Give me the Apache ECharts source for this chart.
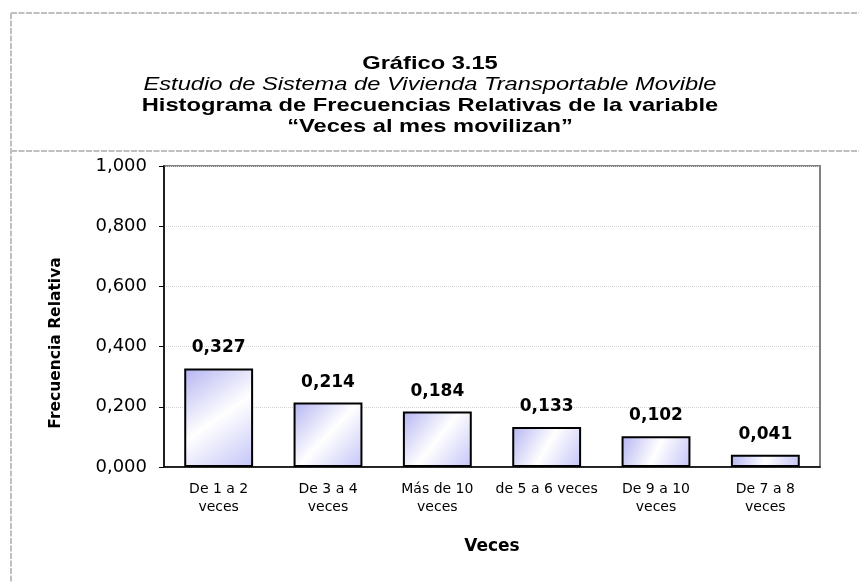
<!DOCTYPE html>
<html>
<head>
<meta charset="utf-8">
<script src="https://cdn.jsdelivr.net/npm/echarts@6/dist/echarts.min.js"></script>
<style>
  html, body { margin: 0; padding: 0; background: #fff; }
  #chart { width: 859px; height: 583px; }
</style>
</head>
<body>
<div id="chart"></div>
<script>
// categorias y frecuencias relativas
const categorias = ["De 1 a 2\nveces", "De 3 a 4\nveces", "Más de 10\nveces", "de 5 a 6 veces", "De 9 a 10\nveces", "De 7 a 8\nveces"];
const frecuencias = [0.327, 0.214, 0.184, 0.133, 0.102, 0.041];
const ticksY = [0, 0.2, 0.4, 0.6, 0.8, 1.0];
const titulos = [
  "Gráfico 3.15",
  "Estudio de Sistema de Vivienda Transportable Movible",
  "Histograma de Frecuencias Relativas de la variable",
  "“Veces al mes movilizan”",
];

const fmt = v => v.toFixed(3).replace(".", ",");
const titleFont = "'Liberation Sans', Arial, sans-serif";
const bodyFont = "'DejaVu Sans', Verdana, sans-serif";

// lineas del titulo (texto algo ensanchado como en el original)
const tituloY = [64, 85, 106, 127];
const tituloGraphic = titulos.map((t, i) => ({
  type: "text",
  x: 430,
  y: tituloY[i],
  scaleX: 1.28,
  style: {
    text: t,
    fontFamily: titleFont,
    fontSize: 18.5,
    fontWeight: i === 1 ? "normal" : "bold",
    fontStyle: i === 1 ? "italic" : "normal",
    fill: "#000",
    align: "center",
    verticalAlign: "middle",
  },
}));

let myChart = echarts.init(document.getElementById("chart"));
myChart.setOption({
  animation: false,
  graphic: [
    // marco punteado
    { type: "line", shape: { x1: 11, y1: 13, x2: 859, y2: 13 }, style: { stroke: "#c0c0c0", lineWidth: 2, lineDash: [6, 1.5] } },
    { type: "line", shape: { x1: 11, y1: 13, x2: 11, y2: 583 }, style: { stroke: "#c0c0c0", lineWidth: 2, lineDash: [6, 1.5] } },
    { type: "line", shape: { x1: 11, y1: 151, x2: 859, y2: 151 }, style: { stroke: "#c0c0c0", lineWidth: 2, lineDash: [6, 1.5] } },
    ...tituloGraphic,
    {
      type: "text", x: 56, y: 343, rotation: Math.PI / 2,
      style: { text: "Frecuencia Relativa", fontFamily: bodyFont, fontSize: 15.5, fontWeight: "bold", fill: "#000", align: "center", verticalAlign: "middle" },
    },
  ],
  grid: {
    left: 164, right: 39, top: 166, bottom: 116,
    show: true, borderColor: "#808080", borderWidth: 2,
  },
  xAxis: {
    type: "category",
    data: categorias,
    name: "Veces",
    nameLocation: "middle",
    nameGap: 71,
    nameTextStyle: { fontFamily: bodyFont, fontSize: 17, fontWeight: "bold", color: "#000" },
    axisLine: { lineStyle: { color: "#000", width: 1.5 } },
    axisTick: { length: 5, lineStyle: { color: "#000" } },
    axisLabel: { fontFamily: bodyFont, fontSize: 14, color: "#000", margin: 13, lineHeight: 18, interval: 0 },
  },
  yAxis: {
    type: "value",
    min: ticksY[0],
    max: ticksY[ticksY.length - 1],
    interval: 0.2,
    axisLine: { show: true, lineStyle: { color: "#000", width: 1.5 } },
    axisTick: { show: true, length: 5, lineStyle: { color: "#000" } },
    axisLabel: { fontFamily: bodyFont, fontSize: 18, color: "#000", margin: 17, formatter: fmt },
    splitLine: { lineStyle: { color: "#d4d4d4", type: "dotted" } },
  },
  series: [
    {
      type: "bar",
      data: frecuencias,
      barWidth: "63%",
      itemStyle: {
        color: new echarts.graphic.LinearGradient(0, 0, 1, 1, [
          { offset: 0, color: "#b4b4f2" },
          { offset: 0.5, color: "#ffffff" },
          { offset: 1, color: "#c4c4f8" },
        ]),
        borderColor: "#000",
        borderWidth: 2,
      },
      label: {
        show: true,
        position: "top",
        distance: 12,
        fontFamily: bodyFont,
        fontSize: 17,
        fontWeight: "bold",
        color: "#000",
        formatter: p => fmt(p.value),
      },
    },
  ],
});
</script>
</body>
</html>
